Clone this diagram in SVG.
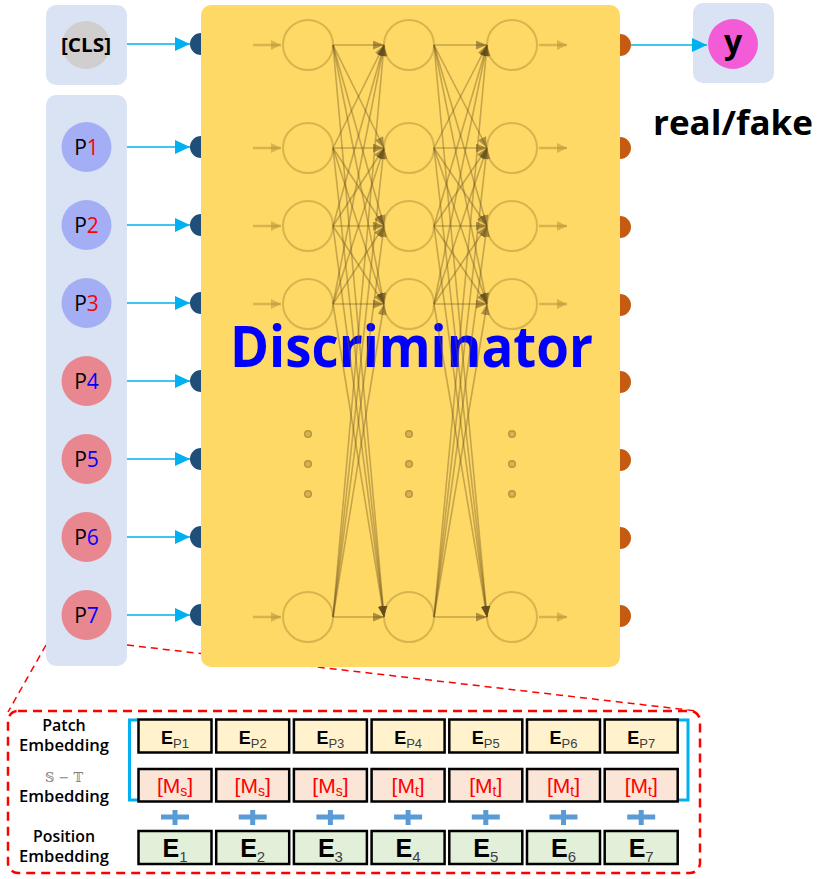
<svg xmlns="http://www.w3.org/2000/svg" width="818" height="879" viewBox="0 0 818 879">
<defs>
<marker id="cy" markerUnits="userSpaceOnUse" markerWidth="16" markerHeight="14" refX="15" refY="7" orient="auto"><path d="M0,0 L15,7 L0,14 Z" fill="#00B0F0"/></marker>
<marker id="nn" markerUnits="userSpaceOnUse" markerWidth="11" markerHeight="9" refX="11" refY="4.5" orient="auto"><path d="M0,0 L11,4.5 L0,9 Z" fill="#5E4818" fill-opacity="0.5"/></marker>
<marker id="lt" markerUnits="userSpaceOnUse" markerWidth="10" markerHeight="10" refX="10" refY="5" orient="auto"><path d="M0,0 L10,5 L0,10 Z" fill="#B8963A" fill-opacity="0.55"/></marker>
<style>
.pan{fill:#DAE3F3}
.blue{stroke:#00B0F0;stroke-width:1.6;fill:none;marker-end:url(#cy)}
.lbl{font-family:"Open Sans","Liberation Sans",sans-serif}
.neu{fill:none;stroke:#B8963A;stroke-opacity:0.55;stroke-width:2}
.ia{stroke:#B8963A;stroke-opacity:0.55;stroke-width:2.5;marker-end:url(#lt)}
.cn{stroke:#6E5520;stroke-opacity:0.4;stroke-width:1.6;marker-end:url(#nn)}
.dot{fill:#D6B350;stroke:#B8963A;stroke-width:1.5}
.inp{fill:#1F4E79}
.out{fill:#C55A11}
.pb{fill:#FFF2CC;stroke:#000;stroke-width:2.5}
.mb{fill:#FBE5D6;stroke:#000;stroke-width:2.5}
.eb{fill:#E2F0D9;stroke:#000;stroke-width:2.5}
.bt{font-family:"Liberation Sans","Open Sans",sans-serif;text-anchor:middle}
.plus{fill:#5B9BD5}
.red{stroke:#FF0000;fill:none;stroke-width:1.5;stroke-dasharray:7 5}
.brk{stroke:#00B0F0;stroke-width:3;fill:none}
</style>
</defs>
<rect width="818" height="879" fill="#fff"/>

<g id="zoom-lines">
<line class="red" x1="46" y1="645" x2="8" y2="712"/>
<line class="red" x1="127" y1="645" x2="697" y2="711"/>
</g>

<g id="cls">
<rect class="pan" x="46" y="5" width="81" height="80" rx="10"/>
<circle cx="86" cy="45" r="24" fill="#D0CECE"/>
<text class="lbl" x="86" y="52" font-size="19" font-weight="bold" text-anchor="middle" textLength="50" lengthAdjust="spacingAndGlyphs">[CLS]</text>
</g>

<g id="patches">
<rect class="pan" x="46" y="95" width="81" height="571" rx="10"/>
<g font-size="21" class="lbl" text-anchor="middle">
<circle cx="86.5" cy="147" r="25" fill="#A4AEF5"/><text x="86.5" y="155">P<tspan fill="#FF0000">1</tspan></text>
<circle cx="86.5" cy="225" r="25" fill="#A4AEF5"/><text x="86.5" y="233">P<tspan fill="#FF0000">2</tspan></text>
<circle cx="86.5" cy="303" r="25" fill="#A4AEF5"/><text x="86.5" y="311">P<tspan fill="#FF0000">3</tspan></text>
<circle cx="86.5" cy="381" r="25" fill="#E8878F"/><text x="86.5" y="389">P<tspan fill="#0000FF">4</tspan></text>
<circle cx="86.5" cy="459" r="25" fill="#E8878F"/><text x="86.5" y="467">P<tspan fill="#0000FF">5</tspan></text>
<circle cx="86.5" cy="537" r="25" fill="#E8878F"/><text x="86.5" y="545">P<tspan fill="#0000FF">6</tspan></text>
<circle cx="86.5" cy="615" r="25" fill="#E8878F"/><text x="86.5" y="623">P<tspan fill="#0000FF">7</tspan></text>
</g>
</g>

<g id="discriminator">
<rect x="201" y="5" width="419" height="662" rx="10" fill="#FFD966"/>
<path class="inp" d="M201,33 A11,11 0 0 0 201,55 Z M201,136 A11,11 0 0 0 201,158 Z M201,214 A11,11 0 0 0 201,236 Z M201,292 A11,11 0 0 0 201,314 Z M201,370 A11,11 0 0 0 201,392 Z M201,448 A11,11 0 0 0 201,470 Z M201,526 A11,11 0 0 0 201,548 Z M201,604 A11,11 0 0 0 201,626 Z"/>
<path class="out" d="M620,34 A11,11 0 0 1 620,56 Z M620,137 A11,11 0 0 1 620,159 Z M620,216 A11,11 0 0 1 620,238 Z M620,294 A11,11 0 0 1 620,316 Z M620,371 A11,11 0 0 1 620,393 Z M620,449 A11,11 0 0 1 620,471 Z M620,527 A11,11 0 0 1 620,549 Z M620,605 A11,11 0 0 1 620,627 Z"/>
<text x="230" y="367" font-family="'Open Sans','Liberation Sans',sans-serif" font-weight="bold" font-size="58" fill="#0000FF" textLength="363" lengthAdjust="spacingAndGlyphs">Discriminator</text>
<g id="network">
<g>
<circle class="neu" cx="308" cy="45" r="25"/><circle class="neu" cx="308" cy="148" r="25"/><circle class="neu" cx="308" cy="226" r="25"/><circle class="neu" cx="308" cy="304" r="25"/><circle class="neu" cx="308" cy="617" r="25"/>
<circle class="neu" cx="409" cy="45" r="25"/><circle class="neu" cx="409" cy="148" r="25"/><circle class="neu" cx="409" cy="226" r="25"/><circle class="neu" cx="409" cy="304" r="25"/><circle class="neu" cx="409" cy="617" r="25"/>
<circle class="neu" cx="512" cy="45" r="25"/><circle class="neu" cx="512" cy="148" r="25"/><circle class="neu" cx="512" cy="226" r="25"/><circle class="neu" cx="512" cy="304" r="25"/><circle class="neu" cx="512" cy="617" r="25"/>
<circle class="dot" cx="308" cy="434" r="3.3"/><circle class="dot" cx="308" cy="464" r="3.3"/><circle class="dot" cx="308" cy="494" r="3.3"/>
<circle class="dot" cx="409" cy="434" r="3.3"/><circle class="dot" cx="409" cy="464" r="3.3"/><circle class="dot" cx="409" cy="494" r="3.3"/>
<circle class="dot" cx="512" cy="434" r="3.3"/><circle class="dot" cx="512" cy="464" r="3.3"/><circle class="dot" cx="512" cy="494" r="3.3"/>
</g>
<g>
<line class="ia" x1="253" y1="45" x2="281" y2="45"/><line class="ia" x1="253" y1="148" x2="281" y2="148"/><line class="ia" x1="253" y1="226" x2="281" y2="226"/><line class="ia" x1="253" y1="304" x2="281" y2="304"/><line class="ia" x1="253" y1="617" x2="281" y2="617"/>
<line class="ia" x1="539" y1="45" x2="567" y2="45"/><line class="ia" x1="539" y1="148" x2="567" y2="148"/><line class="ia" x1="539" y1="226" x2="567" y2="226"/><line class="ia" x1="539" y1="304" x2="567" y2="304"/><line class="ia" x1="539" y1="617" x2="567" y2="617"/>
</g>
<g>
<line class="cn" x1="333" y1="45" x2="384" y2="45"/><line class="cn" x1="333" y1="45" x2="384" y2="148"/><line class="cn" x1="333" y1="45" x2="384" y2="226"/><line class="cn" x1="333" y1="45" x2="384" y2="304"/><line class="cn" x1="333" y1="45" x2="384" y2="617"/>
<line class="cn" x1="333" y1="148" x2="384" y2="45"/><line class="cn" x1="333" y1="148" x2="384" y2="148"/><line class="cn" x1="333" y1="148" x2="384" y2="226"/><line class="cn" x1="333" y1="148" x2="384" y2="304"/><line class="cn" x1="333" y1="148" x2="384" y2="617"/>
<line class="cn" x1="333" y1="226" x2="384" y2="45"/><line class="cn" x1="333" y1="226" x2="384" y2="148"/><line class="cn" x1="333" y1="226" x2="384" y2="226"/><line class="cn" x1="333" y1="226" x2="384" y2="304"/><line class="cn" x1="333" y1="226" x2="384" y2="617"/>
<line class="cn" x1="333" y1="304" x2="384" y2="45"/><line class="cn" x1="333" y1="304" x2="384" y2="148"/><line class="cn" x1="333" y1="304" x2="384" y2="226"/><line class="cn" x1="333" y1="304" x2="384" y2="304"/><line class="cn" x1="333" y1="304" x2="384" y2="617"/>
<line class="cn" x1="333" y1="617" x2="384" y2="45"/><line class="cn" x1="333" y1="617" x2="384" y2="148"/><line class="cn" x1="333" y1="617" x2="384" y2="226"/><line class="cn" x1="333" y1="617" x2="384" y2="304"/><line class="cn" x1="333" y1="617" x2="384" y2="617"/>
<line class="cn" x1="434" y1="45" x2="487" y2="45"/><line class="cn" x1="434" y1="45" x2="487" y2="148"/><line class="cn" x1="434" y1="45" x2="487" y2="226"/><line class="cn" x1="434" y1="45" x2="487" y2="304"/><line class="cn" x1="434" y1="45" x2="487" y2="617"/>
<line class="cn" x1="434" y1="148" x2="487" y2="45"/><line class="cn" x1="434" y1="148" x2="487" y2="148"/><line class="cn" x1="434" y1="148" x2="487" y2="226"/><line class="cn" x1="434" y1="148" x2="487" y2="304"/><line class="cn" x1="434" y1="148" x2="487" y2="617"/>
<line class="cn" x1="434" y1="226" x2="487" y2="45"/><line class="cn" x1="434" y1="226" x2="487" y2="148"/><line class="cn" x1="434" y1="226" x2="487" y2="226"/><line class="cn" x1="434" y1="226" x2="487" y2="304"/><line class="cn" x1="434" y1="226" x2="487" y2="617"/>
<line class="cn" x1="434" y1="304" x2="487" y2="45"/><line class="cn" x1="434" y1="304" x2="487" y2="148"/><line class="cn" x1="434" y1="304" x2="487" y2="226"/><line class="cn" x1="434" y1="304" x2="487" y2="304"/><line class="cn" x1="434" y1="304" x2="487" y2="617"/>
<line class="cn" x1="434" y1="617" x2="487" y2="45"/><line class="cn" x1="434" y1="617" x2="487" y2="148"/><line class="cn" x1="434" y1="617" x2="487" y2="226"/><line class="cn" x1="434" y1="617" x2="487" y2="304"/><line class="cn" x1="434" y1="617" x2="487" y2="617"/>
</g>
</g>
</g>

<g id="output">
<rect class="pan" x="693" y="3" width="81" height="80" rx="10"/>
<circle cx="733" cy="44" r="25" fill="#F35CD6"/>
<text class="lbl" x="733" y="53" font-size="32" font-weight="bold" text-anchor="middle">y</text>
<text class="lbl" x="653" y="135" font-size="34" font-weight="bold" textLength="160" lengthAdjust="spacingAndGlyphs">real/fake</text>
</g>

<g id="connectors">
<line class="blue" x1="127" y1="44" x2="190" y2="44"/>
<line class="blue" x1="127" y1="147" x2="190" y2="147"/>
<line class="blue" x1="127" y1="225" x2="190" y2="225"/>
<line class="blue" x1="127" y1="303" x2="190" y2="303"/>
<line class="blue" x1="127" y1="381" x2="190" y2="381"/>
<line class="blue" x1="127" y1="459" x2="190" y2="459"/>
<line class="blue" x1="127" y1="537" x2="190" y2="537"/>
<line class="blue" x1="127" y1="615" x2="190" y2="615"/>
<line class="blue" x1="631" y1="45" x2="707" y2="45"/>
</g>

<g id="embedding-panel">
<rect x="8" y="711" width="692" height="162" rx="10" fill="none" stroke="#FF0000" stroke-width="2.5" stroke-dasharray="9 6"/>
<g class="lbl" font-size="16" font-weight="600" text-anchor="middle">
<text x="64" y="731">Patch</text>
<text x="64" y="751" textLength="90" lengthAdjust="spacingAndGlyphs">Embedding</text>
<text x="64" y="782" font-family="'DejaVu Serif','DejaVu Sans',serif" font-weight="normal" font-size="13" fill="#7F7F7F">𝕊 − 𝕋</text>
<text x="64" y="802" textLength="90" lengthAdjust="spacingAndGlyphs">Embedding</text>
<text x="64" y="842" textLength="62" lengthAdjust="spacingAndGlyphs">Position</text>
<text x="64" y="862" textLength="90" lengthAdjust="spacingAndGlyphs">Embedding</text>
</g>
<path class="brk" d="M138,720 H129.5 V800 H138"/>
<path class="brk" d="M677,720 H688 V800 H677"/>
</g>

<g id="patch-row">
<rect class="pb" x="138.5" y="719.5" width="73" height="33"/><rect class="pb" x="216.2" y="719.5" width="73" height="33"/><rect class="pb" x="293.9" y="719.5" width="73" height="33"/><rect class="pb" x="371.6" y="719.5" width="73" height="33"/><rect class="pb" x="449.3" y="719.5" width="73" height="33"/><rect class="pb" x="527" y="719.5" width="73" height="33"/><rect class="pb" x="604.7" y="719.5" width="73" height="33"/>
<g class="bt">
<text x="175" y="744"><tspan font-size="18" font-weight="bold">E</tspan><tspan font-size="13" fill="#404040" dy="4">P1</tspan></text>
<text x="252.7" y="744"><tspan font-size="18" font-weight="bold">E</tspan><tspan font-size="13" fill="#404040" dy="4">P2</tspan></text>
<text x="330.4" y="744"><tspan font-size="18" font-weight="bold">E</tspan><tspan font-size="13" fill="#404040" dy="4">P3</tspan></text>
<text x="408.1" y="744"><tspan font-size="18" font-weight="bold">E</tspan><tspan font-size="13" fill="#404040" dy="4">P4</tspan></text>
<text x="485.8" y="744"><tspan font-size="18" font-weight="bold">E</tspan><tspan font-size="13" fill="#404040" dy="4">P5</tspan></text>
<text x="563.5" y="744"><tspan font-size="18" font-weight="bold">E</tspan><tspan font-size="13" fill="#404040" dy="4">P6</tspan></text>
<text x="641.2" y="744"><tspan font-size="18" font-weight="bold">E</tspan><tspan font-size="13" fill="#404040" dy="4">P7</tspan></text>
</g>
</g>

<g id="st-row">
<rect class="mb" x="138.5" y="769" width="73" height="32.5"/><rect class="mb" x="216.2" y="769" width="73" height="32.5"/><rect class="mb" x="293.9" y="769" width="73" height="32.5"/><rect class="mb" x="371.6" y="769" width="73" height="32.5"/><rect class="mb" x="449.3" y="769" width="73" height="32.5"/><rect class="mb" x="527" y="769" width="73" height="32.5"/><rect class="mb" x="604.7" y="769" width="73" height="32.5"/>
<g class="bt" fill="#FF0000" font-size="21">
<text x="175" y="793">[M<tspan font-size="14" dy="3">s</tspan><tspan dy="-3">]</tspan></text>
<text x="252.7" y="793">[M<tspan font-size="14" dy="3">s</tspan><tspan dy="-3">]</tspan></text>
<text x="330.4" y="793">[M<tspan font-size="14" dy="3">s</tspan><tspan dy="-3">]</tspan></text>
<text x="408.1" y="793">[M<tspan font-size="14" dy="3">t</tspan><tspan dy="-3">]</tspan></text>
<text x="485.8" y="793">[M<tspan font-size="14" dy="3">t</tspan><tspan dy="-3">]</tspan></text>
<text x="563.5" y="793">[M<tspan font-size="14" dy="3">t</tspan><tspan dy="-3">]</tspan></text>
<text x="641.2" y="793">[M<tspan font-size="14" dy="3">t</tspan><tspan dy="-3">]</tspan></text>
</g>
</g>

<g id="plus-signs" class="plus">
<path d="M161,814.5 h28 v5 h-28 Z M172.5,810 h5 v15 h-5 Z"/>
<path d="M238.7,814.5 h28 v5 h-28 Z M250.2,810 h5 v15 h-5 Z"/>
<path d="M316.4,814.5 h28 v5 h-28 Z M327.9,810 h5 v15 h-5 Z"/>
<path d="M394.1,814.5 h28 v5 h-28 Z M405.6,810 h5 v15 h-5 Z"/>
<path d="M471.8,814.5 h28 v5 h-28 Z M483.3,810 h5 v15 h-5 Z"/>
<path d="M549.5,814.5 h28 v5 h-28 Z M561,810 h5 v15 h-5 Z"/>
<path d="M627.2,814.5 h28 v5 h-28 Z M638.7,810 h5 v15 h-5 Z"/>
</g>

<g id="position-row">
<rect class="eb" x="138.5" y="831" width="73" height="33"/><rect class="eb" x="216.2" y="831" width="73" height="33"/><rect class="eb" x="293.9" y="831" width="73" height="33"/><rect class="eb" x="371.6" y="831" width="73" height="33"/><rect class="eb" x="449.3" y="831" width="73" height="33"/><rect class="eb" x="527" y="831" width="73" height="33"/><rect class="eb" x="604.7" y="831" width="73" height="33"/>
<g class="bt">
<text x="175" y="857"><tspan font-size="25" font-weight="bold">E</tspan><tspan font-size="15" fill="#404040" dy="5">1</tspan></text>
<text x="252.7" y="857"><tspan font-size="25" font-weight="bold">E</tspan><tspan font-size="15" fill="#404040" dy="5">2</tspan></text>
<text x="330.4" y="857"><tspan font-size="25" font-weight="bold">E</tspan><tspan font-size="15" fill="#404040" dy="5">3</tspan></text>
<text x="408.1" y="857"><tspan font-size="25" font-weight="bold">E</tspan><tspan font-size="15" fill="#404040" dy="5">4</tspan></text>
<text x="485.8" y="857"><tspan font-size="25" font-weight="bold">E</tspan><tspan font-size="15" fill="#404040" dy="5">5</tspan></text>
<text x="563.5" y="857"><tspan font-size="25" font-weight="bold">E</tspan><tspan font-size="15" fill="#404040" dy="5">6</tspan></text>
<text x="641.2" y="857"><tspan font-size="25" font-weight="bold">E</tspan><tspan font-size="15" fill="#404040" dy="5">7</tspan></text>
</g>
</g>
</svg>
